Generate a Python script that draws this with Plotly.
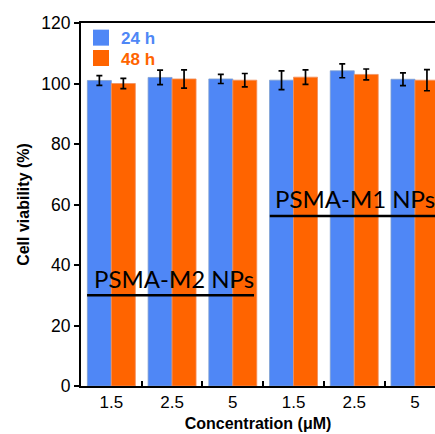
import plotly.graph_objects as go

categories = ["M2-1.5", "M2-2.5", "M2-5", "M1-1.5", "M1-2.5", "M1-5"]
tick_labels = ["1.5", "2.5", "5", "1.5", "2.5", "5"]
viab_24h = [101.0, 102.0, 101.5, 101.1, 104.2, 101.4]
err_24h = [1.6, 2.4, 1.5, 3.1, 2.3, 2.1]
viab_48h = [100.0, 101.5, 101.1, 102.1, 103.0, 101.1]
err_48h = [1.7, 3.0, 2.2, 2.4, 1.8, 3.5]
series_names = ["24 h", "48 h"]

BLUE = "#4F87F6"
ORANGE = "#FF6400"
FONT = "Liberation Sans, Arial, sans-serif"

fig = go.Figure()
fig.add_trace(go.Bar(
    x=categories, y=viab_24h, name=series_names[0], showlegend=False,
    marker=dict(color=BLUE, line=dict(color="#7f9fd0", width=0.8)),
    error_y=dict(type="data", array=err_24h, color="black", thickness=1.7, width=3),
))
fig.add_trace(go.Bar(
    x=categories, y=viab_48h, name=series_names[1], showlegend=False,
    marker=dict(color=ORANGE, line=dict(color="#f09060", width=0.8)),
    error_y=dict(type="data", array=err_48h, color="black", thickness=1.7, width=3),
))
# legend entries (one legend per entry for exact spacing)
for nm, col, lg in zip(series_names, [BLUE, ORANGE], ["legend", "legend2"]):
    fig.add_trace(go.Scatter(
        x=[None], y=[None], mode="markers", legend=lg,
        marker=dict(symbol="square", size=16, color=col),
        name=f"<span style='color:{col}'><b>{nm}</b></span>",
    ))

# group labels with underline
fig.add_shape(type="line", xref="x", yref="y", x0=-0.40, x1=2.35, y0=30, y1=30,
              line=dict(color="black", width=2.5))
fig.add_annotation(x=-0.32, y=30.1, xref="x", yref="y", xanchor="left", yanchor="bottom",
                   text="PSMA-M2 NPs", showarrow=False,
                   font=dict(family="Lato", size=24, color="black"))
fig.add_shape(type="line", xref="x", yref="y", x0=2.61, x1=5.4, y0=56.2, y1=56.2,
              line=dict(color="black", width=2.5))
fig.add_annotation(x=2.655, y=56.5, xref="x", yref="y", xanchor="left", yanchor="bottom",
                   text="PSMA-M1 NPs", showarrow=False,
                   font=dict(family="Lato", size=24, color="black"))

legend_common = dict(xanchor="left", yanchor="top", bgcolor="rgba(0,0,0,0)",
                     font=dict(size=17), itemsizing="trace")
fig.update_layout(
    width=435, height=434,
    margin=dict(l=81, r=0, t=23, b=48),
    paper_bgcolor="white", plot_bgcolor="white",
    barmode="group", bargap=0.21, bargroupgap=0,
    font=dict(family=FONT, size=17, color="black"),
    legend=dict(x=0.0, y=1.008, **legend_common),
    legend2=dict(x=0.0, y=0.952, **legend_common),
    xaxis=dict(
        type="category", categoryorder="array", categoryarray=categories,
        tickmode="array", tickvals=categories, ticktext=tick_labels,
        tickson="boundaries", ticks="inside", ticklen=5, tickwidth=1.5, tickcolor="black",
        showline=True, linecolor="black", linewidth=2, mirror=True,
        range=[-0.5, 5.33], showgrid=False, zeroline=False, automargin=False,
        title=dict(text="<b>Concentration (μM)</b>", font=dict(size=16), standoff=6),
        tickfont=dict(size=17),
    ),
    yaxis=dict(
        range=[0, 120], dtick=20, ticks="outside", ticklen=5, tickwidth=1.5, tickcolor="black",
        showline=True, linecolor="black", linewidth=2, mirror=False,
        showgrid=False, zeroline=False, automargin=False,
        title=dict(text="<b>Cell viability (%)</b>", font=dict(size=16), standoff=8),
        tickfont=dict(size=17.5),
    ),
)

fig.write_html("out.html", config={"displayModeBar": False},
               post_script="document.body.style.margin='0';")
